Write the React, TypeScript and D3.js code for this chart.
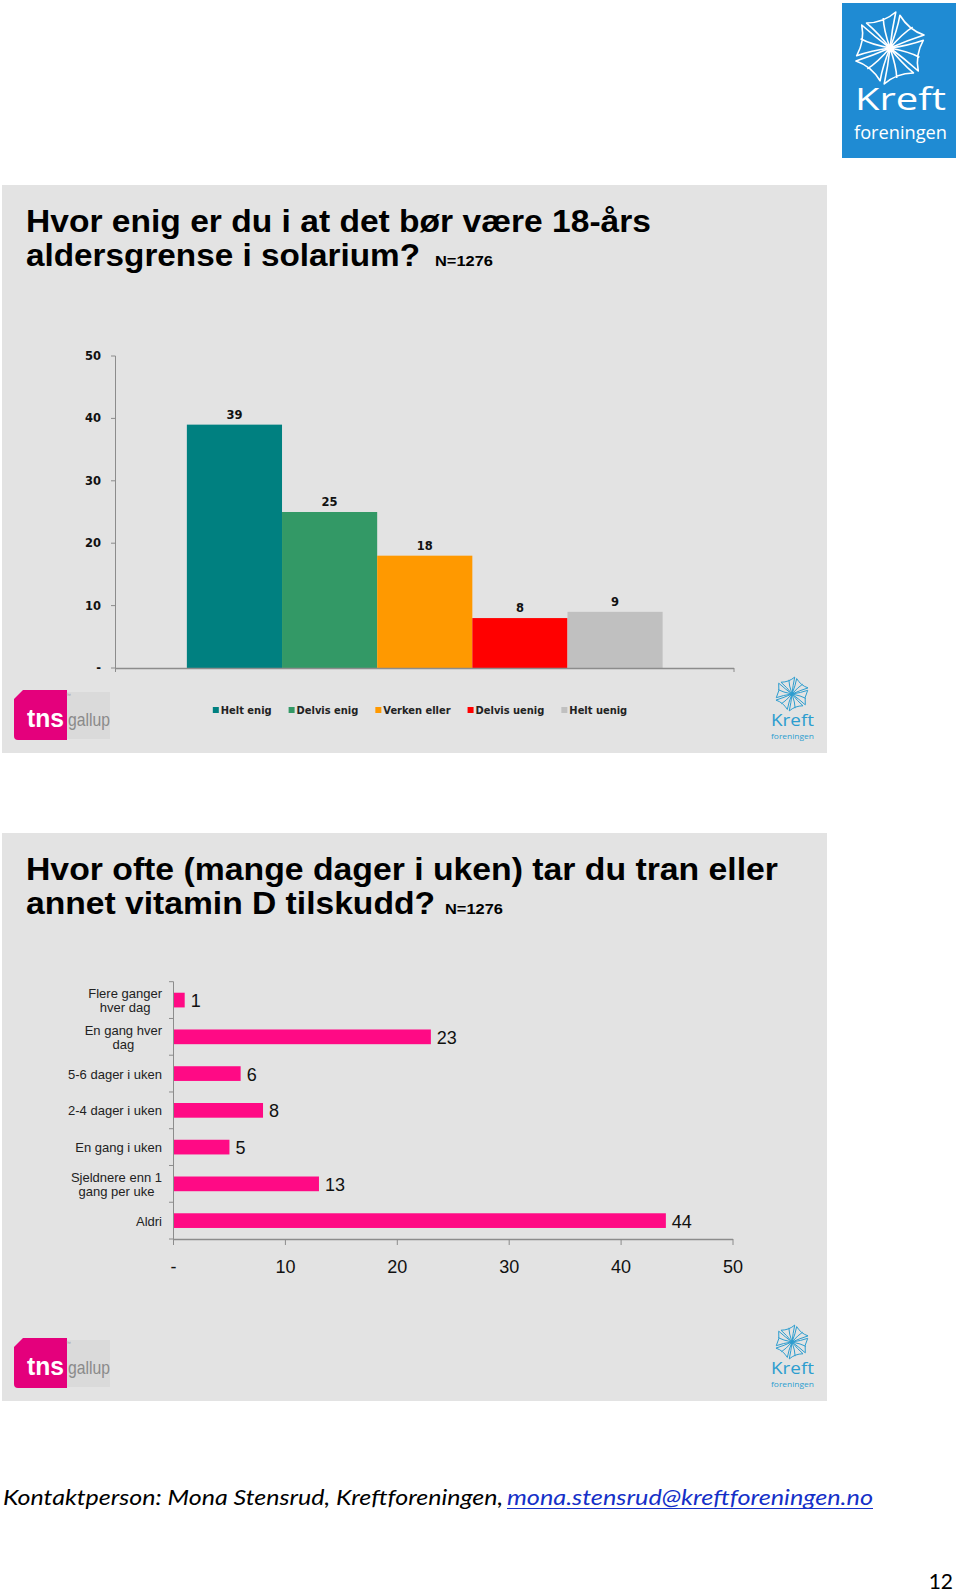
import React from "react";
import * as d3 from "d3";

// ---------- data ----------
const ageTitle = ["Hvor enig er du i at det bør være 18-års", "aldersgrense i solarium?"];
const vitaminTitle = ["Hvor ofte (mange dager i uken) tar du tran eller", "annet vitamin D tilskudd?"];
const sampleNote = "N=1276";

const agreeCategories = ["Helt enig", "Delvis enig", "Verken eller", "Delvis uenig", "Helt uenig"];
const agreeValues = [39, 25, 18, 8, 9];
const agreeColors = ["#008080", "#339966", "#FF9900", "#FF0000", "#C0C0C0"];
const agreeTicks = [0, 10, 20, 30, 40, 50];

const freqCategories = [
  "Flere ganger\nhver dag",
  "En gang hver\ndag",
  "5-6 dager i uken",
  "2-4 dager i uken",
  "En gang i uken",
  "Sjeldnere enn 1\ngang per uke",
  "Aldri",
];
const freqValues = [1, 23, 6, 8, 5, 13, 44];
const freqTicks = [0, 10, 20, 30, 40, 50];

const contactText = "Kontaktperson: Mona Stensrud, Kreftforeningen, ";
const contactMail = "mona.stensrud@kreftforeningen.no";
const pageNumber = "12";

// ---------- helpers ----------
const ARIAL = "'Liberation Sans', Arial, sans-serif";
const VERDANA = "'DejaVu Sans', Verdana, sans-serif";
const VERDANA_C = "'DejaVu Sans Condensed', 'DejaVu Sans', sans-serif";
const PANEL_BG = "#E3E3E3";
const AXIS = "#8C8C8C";
const KREFT_BLUE = "#2C9DCF";

let ctx: CanvasRenderingContext2D | null = null;
function measure(text: string, font: string): number {
  if (!ctx) ctx = document.createElement("canvas").getContext("2d");
  if (!ctx) return text.length * 6;
  ctx.font = font;
  return ctx.measureText(text).width;
}
const tickLabel = (v: number) => (v === 0 ? "-" : String(v));

function Pinwheel({ cx, cy, r, stroke, sw }: { cx: number; cy: number; r: number; stroke: string; sw: number }) {
  const blades = d3.range(6).map((i) => i * 60 + 10);
  return (
    <g transform={`translate(${cx},${cy})`}>
      {blades.map((a) => (
        <g key={a} transform={`rotate(${a}) scale(${r})`}>
          <path
            d="M0,0 Q0.12,-0.55 0.12,-1 Q0.45,-0.62 0.92,-0.55 Q0.45,-0.3 0,0 Z M0,0 Q0.3,-0.5 0.55,-0.72"
            fill="none"
            stroke={stroke}
            strokeWidth={sw}
            vectorEffect="non-scaling-stroke"
            strokeLinejoin="round"
          />
        </g>
      ))}
      <circle r={r * 0.07} fill={stroke} />
    </g>
  );
}

function TnsLogo({ top }: { top: number }) {
  return (
    <g transform={`translate(14,${top + 505})`}>
      <rect x={40} y={2} width={56} height={47} fill="#DADADA" />
      <path d="M9,0 H53 V50 H4 Q0,50 0,46 V9 Z" fill="#E4007C" />
      <text x={13} y={37} fill="#fff" fontFamily={ARIAL} fontWeight="bold" fontSize={26} textLength={37} lengthAdjust="spacingAndGlyphs">tns</text>
      <text x={54} y={36} fill="#8A8A8A" fontFamily={ARIAL} fontSize={19} textLength={42} lengthAdjust="spacingAndGlyphs">gallup</text>
      <text x={52} y={7} fill="#9A9A9A" fontFamily={ARIAL} fontSize={5}>™</text>
    </g>
  );
}

function SmallKreft({ top }: { top: number }) {
  return (
    <g>
      <Pinwheel cx={792} cy={top + 509} r={16} stroke={KREFT_BLUE} sw={1} />
      <text x={771} y={top + 540.5} fill={KREFT_BLUE} fontFamily="'Open Sans', sans-serif" fontSize={17} textLength={43} lengthAdjust="spacingAndGlyphs">Kreft</text>
      <text x={771} y={top + 553.5} fill={KREFT_BLUE} fontFamily="'Open Sans', sans-serif" fontSize={8} textLength={43} lengthAdjust="spacingAndGlyphs">foreningen</text>
    </g>
  );
}

function Title({ top, lines, widths, noteX, noteW }: { top: number; lines: string[]; widths: number[]; noteX: number; noteW: number }) {
  return (
    <g fontFamily={ARIAL} fontWeight="bold" fill="#000">
      <text x={26} y={top + 47} fontSize={32} textLength={widths[0]} lengthAdjust="spacingAndGlyphs">{lines[0]}</text>
      <text x={26} y={top + 80.5} fontSize={32} textLength={widths[1]} lengthAdjust="spacingAndGlyphs">{lines[1]}</text>
      <text x={noteX} y={top + 80.5} fontSize={15} textLength={noteW} lengthAdjust="spacingAndGlyphs">{sampleNote}</text>
    </g>
  );
}

function AgreeChart() {
  const x = d3.scaleBand<string>().domain(agreeCategories).range([115.5, 734]).paddingInner(0).paddingOuter(0.75);
  const y = d3.scaleLinear().domain([0, 50]).range([668, 356]);
  const legendFont = `bold 11px 'DejaVu Sans Condensed', 'DejaVu Sans'`;
  const items = agreeCategories.map((c) => ({ c, w: measure(c, legendFont) }));
  const total = d3.sum(items, (d) => 8 + d.w + 17) - 17;
  let cursor = 420 - total / 2;
  const legend = items.map((d, i) => {
    const pos = cursor;
    cursor += 8 + d.w + 17;
    return { ...d, x: pos, color: agreeColors[i] };
  });
  return (
    <g>
      {agreeCategories.map((c, i) => (
        <rect key={c} x={x(c)} y={y(agreeValues[i])} width={x.bandwidth()} height={y(0) - y(agreeValues[i])} fill={agreeColors[i]} />
      ))}
      {/* axes */}
      <line x1={115.5} x2={115.5} y1={y(50)} y2={y(0) + 4} stroke={AXIS} />
      <line x1={115.5} x2={734} y1={y(0) + 0.5} y2={y(0) + 0.5} stroke={AXIS} strokeWidth={1.5} />
      <line x1={734} x2={734} y1={y(0)} y2={y(0) + 4} stroke={AXIS} />
      {agreeTicks.map((t) => (
        <g key={t}>
          <line x1={111} x2={115.5} y1={y(t)} y2={y(t)} stroke={AXIS} />
          <text x={101} y={y(t)} textAnchor="end" dominantBaseline="central" fontFamily={VERDANA} fontWeight="bold" fontSize={11.5} fill="#111">
            {tickLabel(t)}
          </text>
        </g>
      ))}
      {agreeCategories.map((c, i) => (
        <text key={c} x={(x(c) as number) + x.bandwidth() / 2} y={y(agreeValues[i]) - 6} textAnchor="middle" fontFamily={VERDANA} fontWeight="bold" fontSize={11.5} fill="#111">
          {agreeValues[i]}
        </text>
      ))}
      {legend.map((d) => (
        <g key={d.c}>
          <rect x={d.x} y={707} width={6} height={6} fill={d.color} />
          <text x={d.x + 8} y={710} dominantBaseline="central" fontFamily={VERDANA_C} fontStretch="condensed" fontWeight="bold" fontSize={11} fill="#222">
            {d.c}
          </text>
        </g>
      ))}
    </g>
  );
}

function FreqChart() {
  const top = 981.7;
  const bottom = 1239;
  const y = d3.scaleBand<string>().domain(freqCategories).range([top, bottom]).paddingInner(0.6).paddingOuter(0.3);
  const grid = d3.scaleBand<string>().domain(freqCategories).range([top, bottom]);
  const x = d3.scaleLinear().domain([0, 50]).range([173.5, 733]);
  const labelFont = `13px 'Liberation Sans'`;
  return (
    <g>
      {freqCategories.map((c, i) => (
        <rect key={c} x={x(0)} y={y(c)} width={x(freqValues[i]) - x(0)} height={y.bandwidth()} fill="#FF0A85" />
      ))}
      <line x1={173.5} x2={173.5} y1={top} y2={bottom} stroke={AXIS} />
      <line x1={173.5} x2={733} y1={bottom + 0.5} y2={bottom + 0.5} stroke={AXIS} strokeWidth={1.5} />
      {[...freqCategories.map((c) => grid(c) as number), bottom].map((v, i) => (
        <line key={i} x1={169} x2={173.5} y1={v} y2={v} stroke={AXIS} />
      ))}
      {freqTicks.map((t) => (
        <g key={t}>
          <line x1={x(t)} x2={x(t)} y1={bottom} y2={bottom + 6} stroke={AXIS} />
          <text x={x(t)} y={1267} textAnchor="middle" dominantBaseline="central" fontFamily={ARIAL} fontSize={18} fill="#111">
            {tickLabel(t)}
          </text>
        </g>
      ))}
      {freqCategories.map((c) => {
        const lines = c.split("\n");
        const maxW = d3.max(lines, (l) => measure(l, labelFont)) as number;
        const cx = 162 - maxW / 2;
        const cy = (grid(c) as number) + grid.bandwidth() / 2 + 0.5;
        return (
          <text key={c} textAnchor="middle" fontFamily={ARIAL} fontSize={13} fill="#222">
            {lines.map((l, i) => (
              <tspan key={i} x={cx} y={cy + (i - (lines.length - 1) / 2) * 14.5} dominantBaseline="central">
                {l}
              </tspan>
            ))}
          </text>
        );
      })}
      {freqCategories.map((c, i) => (
        <text key={c} x={x(freqValues[i]) + 6} y={(y(c) as number) + y.bandwidth() / 2 + 1} dominantBaseline="central" fontFamily={ARIAL} fontSize={18} fill="#111">
          {freqValues[i]}
        </text>
      ))}
    </g>
  );
}

export default function App() {
  const p1 = 185;
  const p2 = 833;
  return (
    <svg width={960} height={1596} viewBox="0 0 960 1596" style={{ position: "absolute", left: 0, top: 0, background: "#fff" }}>
      {/* top logo */}
      <rect x={842} y={3} width={114} height={155} fill="#1F8BD3" />
      <Pinwheel cx={890} cy={48} r={34} stroke="#fff" sw={1.6} />
      <text x={855} y={110} fill="#fff" fontFamily="'Open Sans', sans-serif" fontSize={31} textLength={91} lengthAdjust="spacingAndGlyphs">Kreft</text>
      <text x={854} y={139} fill="#fff" fontFamily="'Open Sans', sans-serif" fontSize={19} textLength={93} lengthAdjust="spacingAndGlyphs">foreningen</text>

      {/* panel 1 */}
      <rect x={2} y={p1} width={825} height={568} fill={PANEL_BG} />
      <Title top={p1} lines={ageTitle} widths={[625, 394]} noteX={435} noteW={58} />
      <AgreeChart />
      <TnsLogo top={p1} />
      <SmallKreft top={p1} />

      {/* panel 2 */}
      <rect x={2} y={p2} width={825} height={568} fill={PANEL_BG} />
      <Title top={p2} lines={vitaminTitle} widths={[752, 409]} noteX={445} noteW={58} />
      <FreqChart />
      <TnsLogo top={p2} />
      <SmallKreft top={p2} />

      {/* footer */}
      <text x={3} y={1505} fontFamily="Lato, 'Open Sans', sans-serif" fontStyle="italic" fontSize={22} fill="#000" textLength={500} lengthAdjust="spacingAndGlyphs">
        {contactText}
      </text>
      <text x={507} y={1505} fontFamily="Lato, 'Open Sans', sans-serif" fontStyle="italic" fontSize={22} fill="#1530C8" textLength={366} lengthAdjust="spacingAndGlyphs">
        {contactMail}
      </text>
      <line x1={507} x2={873} y1={1508.5} y2={1508.5} stroke="#1530C8" strokeWidth={1.2} />
      <text x={953} y={1589} textAnchor="end" fontFamily="Lato, 'Open Sans', sans-serif" fontSize={21} fill="#000">
        {pageNumber}
      </text>
    </svg>
  );
}
